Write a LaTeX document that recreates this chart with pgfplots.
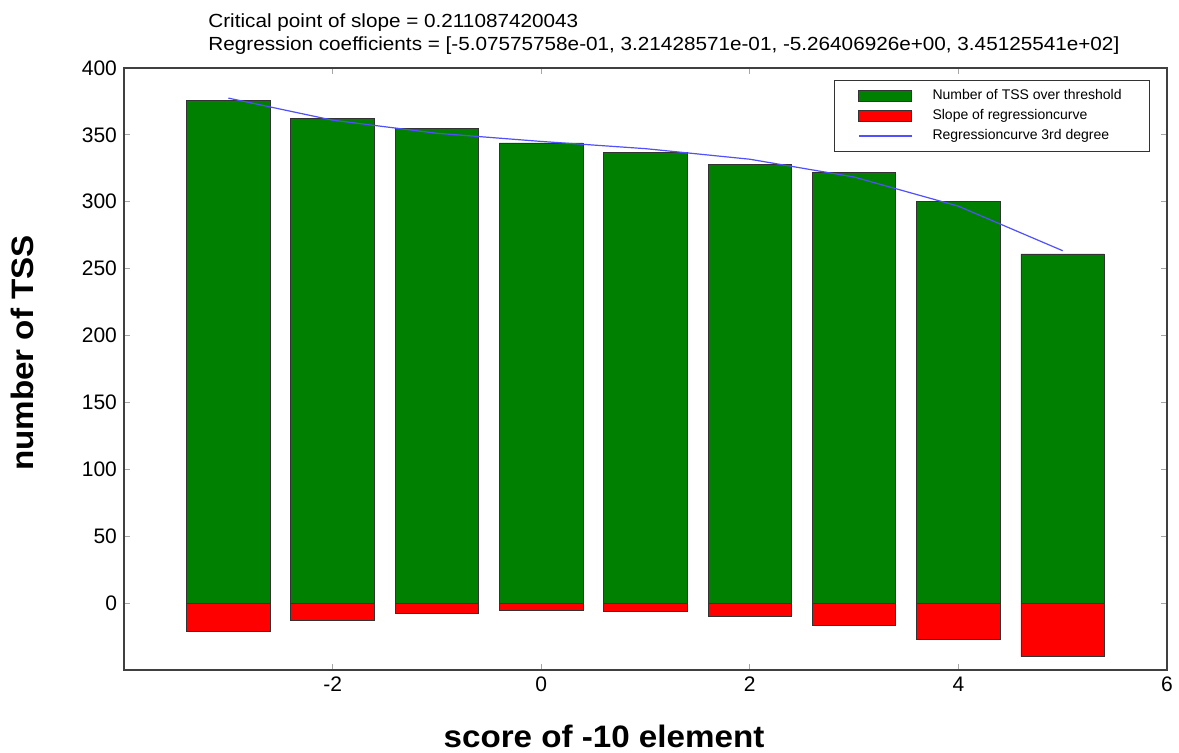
\documentclass[border=0pt]{standalone}
\usepackage{pgfplots}
\pgfplotsset{compat=1.18}
\usepackage{fontspec}
\setmainfont{Liberation Sans}
\newfontfamily\widefont[FakeStretch=1.09]{Liberation Sans}
\newfontfamily\widebold[FakeStretch=1.07]{Liberation Sans Bold}
\definecolor{mplgreen}{RGB}{0,128,0}
\definecolor{mplred}{RGB}{255,0,0}
\definecolor{mplblue}{RGB}{80,80,255}
\begin{document}
\begin{tikzpicture}
\begin{axis}[
  scale only axis,
  width=521.5pt, height=301pt,
  xmin=-4, xmax=6, ymin=-50, ymax=400,
  xtick={-2,0,2,4,6},
  ytick={0,50,...,400},
  tick align=inside,
  major tick length=3pt,
  every tick/.style={gray!70, thin},
  axis line style={black!75, line width=0.6pt},
  tick label style={font=\fontsize{10.5}{12}\selectfont},
  /pgf/number format/assume math mode=true,
  legend style={at={(rel axis cs:1,1)}, anchor=north east, xshift=-8.5pt, yshift=-6pt,
    font=\fontsize{7}{8}\selectfont, draw=black!80, thin, inner xsep=12pt, inner ysep=2.5pt,
    row sep=-0.6pt, cells={anchor=west}},
  legend cell align=left,
]
\coordinate (sw) at (rel axis cs:0,0);
\coordinate (ne) at (rel axis cs:1,1);
\addplot[ybar, bar width=0.8, bar shift=0pt, fill=mplgreen, draw=black!80, line width=0.4pt,
  legend image code/.code={\draw[fill=mplgreen, draw=black!80] (0pt,-2.6pt) rectangle (26.5pt,2.6pt);}]
  coordinates {(-3,376) (-2,362) (-1,355) (0,344) (1,337) (2,328) (3,322) (4,300) (5,261)};
\addlegendentry{\hspace{8pt}Number of TSS over threshold}
\addplot[ybar, bar width=0.8, bar shift=0pt, fill=mplred, draw=black!80, line width=0.4pt,
  legend image code/.code={\draw[fill=mplred, draw=black!80] (0pt,-2.6pt) rectangle (26.5pt,2.6pt);}]
  coordinates {(-3,-20.9) (-2,-12.6) (-1,-7.4) (0,-5.3) (1,-6.1) (2,-10.1) (3,-17.0) (4,-27.1) (5,-40.1)};
\addlegendentry{\hspace{8pt}Slope of regressioncurve}
\addplot[draw=mplblue, line width=0.6pt, mark=none,
  legend image code/.code={\draw[draw=mplblue, line width=0.7pt] (0pt,0pt) -- (26.5pt,0pt);}]
  coordinates {(-3,377.5) (-2,361.0) (-1,351.2) (0,345.1) (1,339.7) (2,331.8) (3,318.5) (4,296.7) (5,263.4)};
\addlegendentry{\hspace{8pt}Regressioncurve 3rd degree}
\end{axis}
\node[anchor=base west, font=\widefont\fontsize{9.5}{11}\selectfont, inner sep=0pt] at ([shift={(42pt,20pt)}]sw |- ne) {Critical point of slope = 0.211087420043};
\node[anchor=base west, font=\widefont\fontsize{9.5}{11}\selectfont, inner sep=0pt] at ([shift={(42pt,8.5pt)}]sw |- ne) {Regression coefficients = [-5.07575758e-01, 3.21428571e-01, -5.26406926e+00, 3.45125541e+02]};
\node[rotate=90, font=\widebold\fontsize{15.5}{18}\selectfont, inner sep=0pt] at ([shift={(-51pt,158.5pt)}]sw) {number of TSS};
\node[anchor=base, font=\widebold\fontsize{15.5}{18}\selectfont, inner sep=0pt] at ([shift={(240pt,-39pt)}]sw) {score of -10 element};
\pgfresetboundingbox
\path ([shift={(-62pt,-41.5pt)}]sw) rectangle ([shift={(6pt,34pt)}]ne);
\end{tikzpicture}
\end{document}
